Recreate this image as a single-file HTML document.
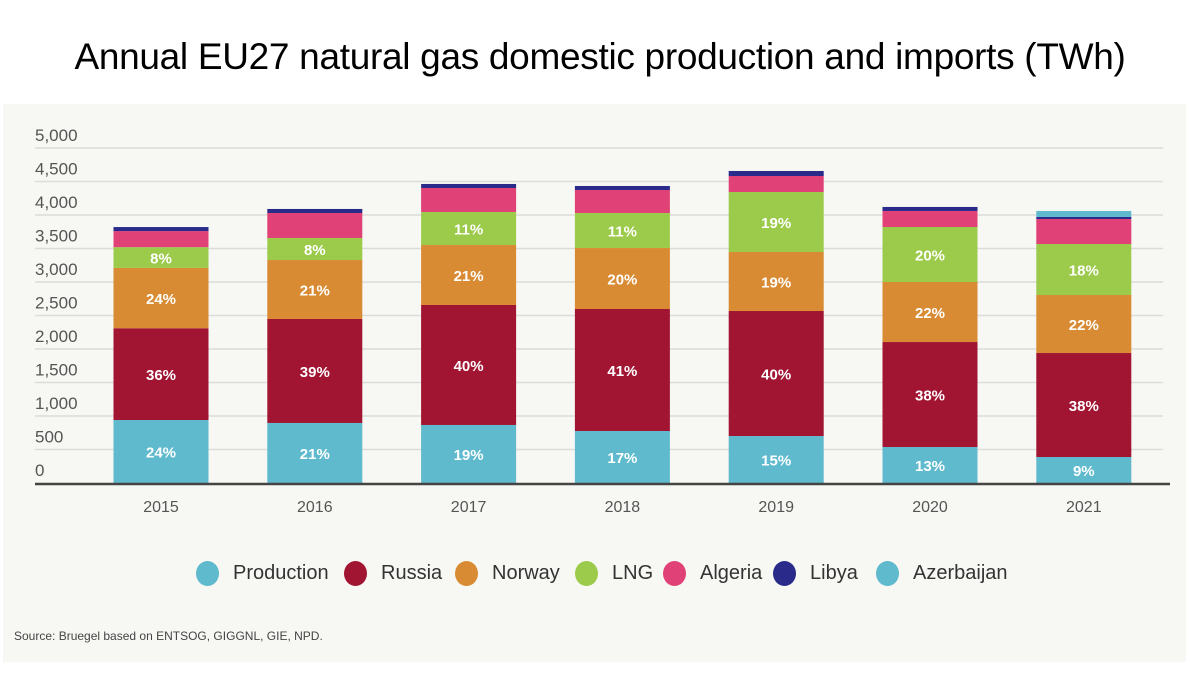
<!DOCTYPE html>
<html><head><meta charset="utf-8"><style>
body{margin:0;width:1200px;height:675px;background:#fff;position:relative;overflow:hidden;font-family:"Liberation Sans",sans-serif}
#title{position:absolute;left:0;width:1200px;top:36px;text-align:center;font-size:37px;color:#000;letter-spacing:-0.3px}
#panel{position:absolute;left:3px;top:104px;width:1183px;height:558px;background:#f7f7f3}
#src{position:absolute;left:14px;top:629px;font-family:"Liberation Sans Narrow","Liberation Sans",sans-serif;font-size:12px;color:#444}
.leg{position:absolute;top:561px;font-family:"Liberation Sans Narrow","Liberation Sans",sans-serif;font-size:20px;color:#333;display:flex;align-items:center}
.leg span.dot{display:inline-block;width:23px;height:25px;border-radius:50%;margin-right:14px}
</style></head><body>
<div id="title">Annual EU27 natural gas domestic production and imports (TWh)</div>
<div id="panel"></div>
<svg id="chart" width="1200" height="675" style="position:absolute;left:0;top:0"></svg>
<div class="leg" style="left:196px"><span class="dot" style="background:#5fbacd"></span>Production</div>
<div class="leg" style="left:344px"><span class="dot" style="background:#a11533"></span>Russia</div>
<div class="leg" style="left:455px"><span class="dot" style="background:#d98b33"></span>Norway</div>
<div class="leg" style="left:575px"><span class="dot" style="background:#9cca4a"></span>LNG</div>
<div class="leg" style="left:663px"><span class="dot" style="background:#e04176"></span>Algeria</div>
<div class="leg" style="left:773px"><span class="dot" style="background:#2a2a8a"></span>Libya</div>
<div class="leg" style="left:876px"><span class="dot" style="background:#5fbacd"></span>Azerbaijan</div>
<div id="src">Source: Bruegel based on ENTSOG, GIGGNL, GIE, NPD.</div>
<script>
const years=["2015","2016","2017","2018","2019","2020","2021"];
const production=[940,896,866,776,701,537,388];
const russia=[1370,1552,1791,1821,1866,1567,1552];
const norway=[900,880,895,910,881,896,866];
const lng=[310,329,493,523,895,821,761];
const algeria=[240,373,358,343,239,239,373];
const libya=[60,60,60,60,75,60,30];
const azerbaijan=[0,0,0,0,0,0,90];
const prodPct=["24%","21%","19%","17%","15%","13%","9%"];
const russiaPct=["36%","39%","40%","41%","40%","38%","38%"];
const norwayPct=["24%","21%","21%","20%","19%","22%","22%"];
const lngPct=["8%","8%","11%","11%","19%","20%","18%"];
const yTicks=[0,500,1000,1500,2000,2500,3000,3500,4000,4500,5000];
const yTickLabels=["0","500","1,000","1,500","2,000","2,500","3,000","3,500","4,000","4,500","5,000"];

const NS="http://www.w3.org/2000/svg";
const svg=document.getElementById('chart');
const y0=483,yTop=148,yMax=5000;
const y=v=>y0-(v/yMax)*(y0-yTop);
const xc=i=>161+i*153.8;
const bw=95;
function mk(t,a){const e=document.createElementNS(NS,t);for(const k in a)e.setAttribute(k,a[k]);svg.appendChild(e);return e;}
yTicks.forEach((t,i)=>{
  if(t>0){const l=mk('line',{x1:35,x2:1163,y1:y(t),y2:y(t),stroke:'#dcdcd8','stroke-width':1.5});
  
  }
  const tx=mk('text',{x:35,y:y(t)-7,'font-size':17,fill:'#555','font-family':'Liberation Sans Narrow, Liberation Sans, sans-serif'});
  tx.textContent=yTickLabels[i];
  
  
});
const series=[[production,'#5fbacd',prodPct],[russia,'#a11533',russiaPct],[norway,'#d98b33',norwayPct],[lng,'#9cca4a',lngPct],[algeria,'#e04176',null],[libya,'#2a2a8a',null],[azerbaijan,'#5fbacd',null]];
const names=['production','russia','norway','lng','algeria','libya','azerbaijan'];
years.forEach((yr,i)=>{
  let base=0;
  series.forEach((s,k)=>{
    const v=s[0][i];
    if(v>0){
      const r=mk('rect',{x:xc(i)-bw/2,y:y(base+v),width:bw,height:y(base)-y(base+v),fill:s[1]});
      
      
      if(s[2]){
        const t=mk('text',{x:xc(i),y:(y(base)+y(base+v))/2+6,'text-anchor':'middle','font-size':15,'font-weight':'bold',fill:'#fff','font-family':'Liberation Sans Narrow, Liberation Sans, sans-serif'});
        t.textContent=s[2][i];
        
        
      }
    }
    base+=v;
  });
  const t=mk('text',{x:xc(i),y:512,'text-anchor':'middle','font-size':16,fill:'#555'});
  t.textContent=yr;
  
  
});
const ax=mk('line',{x1:35,x2:1170,y1:y0+1,y2:y0+1,stroke:'#444','stroke-width':2.5});


</script>
</body></html>
